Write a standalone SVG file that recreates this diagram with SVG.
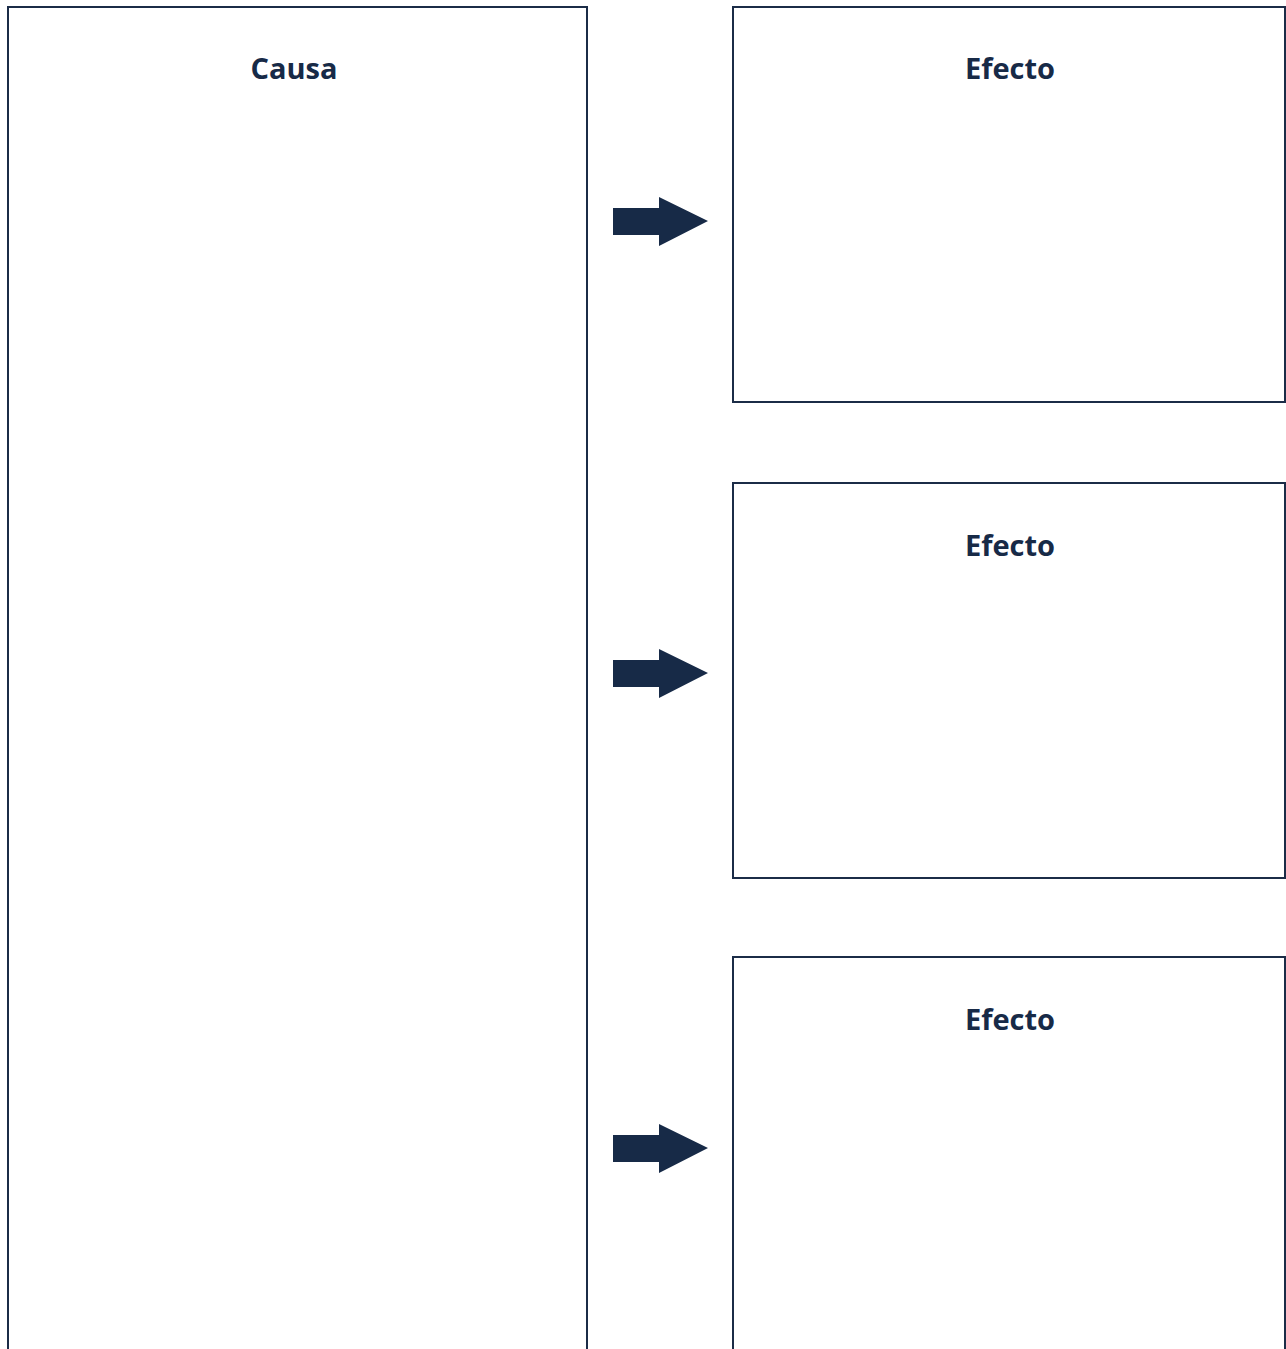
<svg xmlns="http://www.w3.org/2000/svg" width="1286" height="1349" viewBox="0 0 1286 1349">
  <style>
    .box { fill: #ffffff; stroke: #1b2c47; stroke-width: 2; }
    .title { font-family: "Open Sans", "Noto Sans", sans-serif; font-weight: bold; font-size: 29px; fill: #172a47; text-anchor: middle; }
    .arrow { fill: #172a47; }
  </style>
  <defs>
    <path id="arrowShape" d="M0,-13 H46 V-24 L95,0 L46,25 V14 H0 Z"/>
  </defs>
  <rect width="1286" height="1349" fill="#ffffff"/>

  <g id="causa">
    <rect class="box" x="8" y="7" width="579" height="1360"/>
    <text class="title" x="294" y="79">Causa</text>
  </g>

  <g id="efecto-1">
    <rect class="box" x="733" y="7" width="552" height="395"/>
    <text class="title" x="1010" y="79">Efecto</text>
  </g>

  <g id="efecto-2">
    <rect class="box" x="733" y="483" width="552" height="395"/>
    <text class="title" x="1010" y="556">Efecto</text>
  </g>

  <g id="efecto-3">
    <rect class="box" x="733" y="957" width="552" height="420"/>
    <text class="title" x="1010" y="1030">Efecto</text>
  </g>

  <g id="connectors">
    <use href="#arrowShape" class="arrow" x="613" y="221"/>
    <use href="#arrowShape" class="arrow" x="613" y="673"/>
    <use href="#arrowShape" class="arrow" x="613" y="1148"/>
  </g>
</svg>
